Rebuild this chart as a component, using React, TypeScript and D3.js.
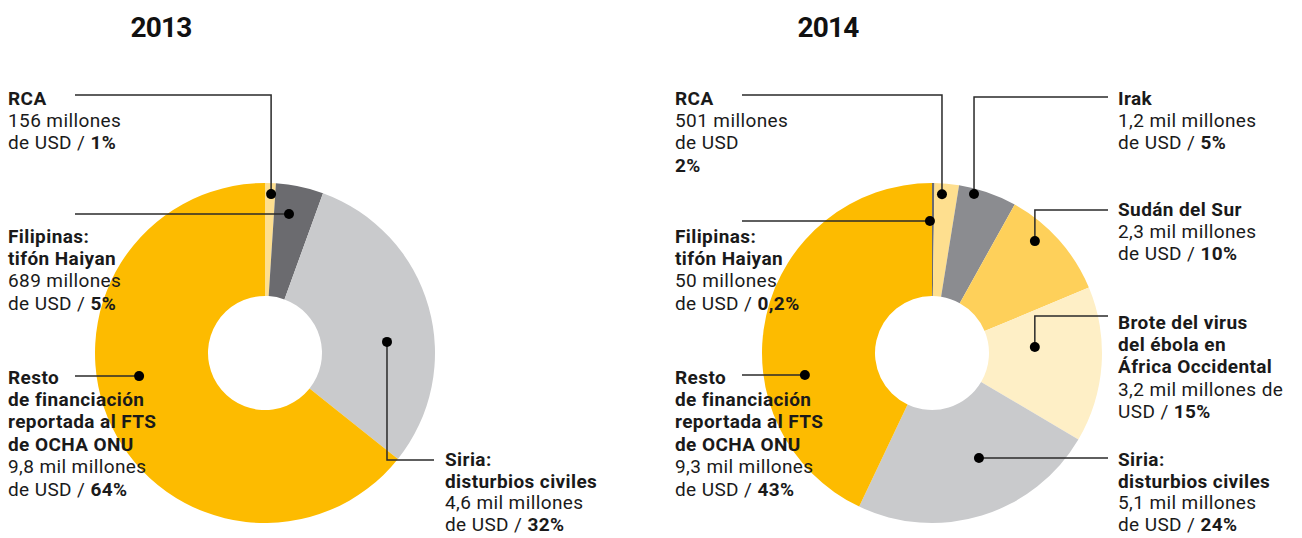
import React from "react";
import * as d3 from "d3";

const W = 1302;
const H = 538;
const FONT = "Roboto, 'DejaVu Sans', sans-serif";

// 2013 slices, clockwise from 12 o'clock (millones de USD)
const keys2013 = ["rca", "filipinas", "siria", "resto"];
const values2013 = [156, 689, 4600, 9800];
const colors2013 = ["#fedf8f", "#6b6b6f", "#c9cacc", "#fdbb00"];

// 2014 slices
const keys2014 = ["filipinas", "rca", "irak", "sudan", "ebola", "siria", "resto"];
const values2014 = [50, 501, 1200, 2300, 3200, 5100, 9300];
const colors2014 = ["#6b6b6f", "#fedf8f", "#8b8c90", "#fed05a", "#feefc6", "#c9cacc", "#fdbb00"];

// label text: each line is a list of [text, bold]
type Seg = [string, boolean];
const labels2013: Record<string, Seg[][]> = {
  rca: [[["RCA", true]], [["156 millones", false]], [["de USD / ", false], ["1%", true]]],
  filipinas: [
    [["Filipinas:", true]],
    [["tifón Haiyan", true]],
    [["689 millones", false]],
    [["de USD / ", false], ["5%", true]],
  ],
  resto: [
    [["Resto", true]],
    [["de financiación", true]],
    [["reportada al FTS", true]],
    [["de OCHA ONU", true]],
    [["9,8 mil millones", false]],
    [["de USD / ", false], ["64%", true]],
  ],
  siria: [
    [["Siria:", true]],
    [["disturbios civiles", true]],
    [["4,6 mil millones", false]],
    [["de USD / ", false], ["32%", true]],
  ],
};

const labels2014: Record<string, Seg[][]> = {
  rca: [[["RCA", true]], [["501 millones", false]], [["de USD", false]], [["2%", true]]],
  filipinas: [
    [["Filipinas:", true]],
    [["tifón Haiyan", true]],
    [["50 millones", false]],
    [["de USD / ", false], ["0,2%", true]],
  ],
  irak: [[["Irak", true]], [["1,2 mil millones", false]], [["de USD / ", false], ["5%", true]]],
  sudan: [[["Sudán del Sur", true]], [["2,3 mil millones", false]], [["de USD / ", false], ["10%", true]]],
  ebola: [
    [["Brote del virus", true]],
    [["del ébola en", true]],
    [["África Occidental", true]],
    [["3,2 mil millones de", false]],
    [["USD / ", false], ["15%", true]],
  ],
  siria: [
    [["Siria:", true]],
    [["disturbios civiles", true]],
    [["5,1 mil millones", false]],
    [["de USD / ", false], ["24%", true]],
  ],
  resto: [
    [["Resto", true]],
    [["de financiación", true]],
    [["reportada al FTS", true]],
    [["de OCHA ONU", true]],
    [["9,3 mil millones", false]],
    [["de USD / ", false], ["43%", true]],
  ],
};

// callout layout: dot (angle deg, radius), text position, leader style
type Callout = {
  key: string;
  angle: number;
  r: number;
  tx: number;
  ty: number; // baseline of first line
  lh?: number;
  leader: "topLeft" | "left" | "downRight" | "upRight" | "right";
  ly?: number; // elbow y
  lx: number; // leader end x
};

const layout2013: Callout[] = [
  { key: "rca", angle: 2.2, r: 159, tx: 8, ty: 104.5, leader: "topLeft", ly: 95, lx: 75 },
  { key: "filipinas", angle: 9.8, r: 141, tx: 8, ty: 242.5, leader: "left", lx: 75 },
  { key: "resto", angle: 259.6, r: 128, tx: 8, ty: 383.5, leader: "left", lx: 75 },
  { key: "siria", angle: 84.8, r: 122.5, tx: 445, ty: 466, lh: 21.7, leader: "downRight", ly: 460, lx: 434 },
];

const layout2014: Callout[] = [
  { key: "rca", angle: 3.6, r: 159, tx: 675, ty: 104.5, leader: "topLeft", ly: 95, lx: 742 },
  { key: "filipinas", angle: 359.1, r: 132, tx: 675, ty: 242.5, leader: "left", lx: 742 },
  { key: "resto", angle: 260.2, r: 129, tx: 675, ty: 383.5, leader: "left", lx: 742 },
  { key: "irak", angle: 14.8, r: 164.5, tx: 1118, ty: 104.5, leader: "upRight", ly: 97, lx: 1108 },
  { key: "sudan", angle: 42.6, r: 152, tx: 1118, ty: 215.5, leader: "upRight", ly: 210, lx: 1108 },
  { key: "ebola", angle: 86.7, r: 103, tx: 1118, ty: 328.5, leader: "upRight", ly: 316, lx: 1108 },
  { key: "siria", angle: 155.9, r: 115, tx: 1118, ty: 466, lh: 21.7, leader: "right", lx: 1108 },
];

const OUTER = 170;
const INNER = 57;
const LINE_H = 22.4;

function Donut({
  cx,
  cy,
  title,
  keys,
  values,
  colors,
  labels,
  layout,
}: {
  cx: number;
  cy: number;
  title: { x: number; text: string };
  keys: string[];
  values: number[];
  colors: string[];
  labels: Record<string, Seg[][]>;
  layout: Callout[];
}) {
  const pie = d3.pie<number>().sort(null).value((d) => d);
  const arcs = pie(values);
  const arc = d3.arc<d3.PieArcDatum<number>>().innerRadius(INNER).outerRadius(OUTER);

  return (
    <g>
      <text
        x={title.x}
        y={37}
        textAnchor="middle"
        style={{ fontFamily: FONT, fontWeight: 700, fontSize: 28, fill: "#111", letterSpacing: -0.8 }}
      >
        {title.text}
      </text>
      <g transform={`translate(${cx},${cy})`}>
        {arcs.map((a, i) => (
          <path key={keys[i]} d={arc(a) || ""} fill={colors[i]} />
        ))}
      </g>
      {layout.map((c) => {
        const [px, py] = d3.pointRadial((c.angle * Math.PI) / 180, c.r);
        const dx = cx + px;
        const dy = cy + py;
        let pts: [number, number][] = [];
        if (c.leader === "topLeft") pts = [[c.lx, c.ly!], [dx, c.ly!], [dx, dy]];
        else if (c.leader === "left") pts = [[c.lx, dy], [dx, dy]];
        else if (c.leader === "downRight") pts = [[dx, dy], [dx, c.ly!], [c.lx, c.ly!]];
        else if (c.leader === "upRight") pts = [[dx, dy], [dx, c.ly!], [c.lx, c.ly!]];
        else pts = [[dx, dy], [c.lx, dy]];
        const line = d3.line();
        const lh = c.lh ?? LINE_H;
        return (
          <g key={c.key}>
            <path d={line(pts) || ""} fill="none" stroke="#2a2a2a" strokeWidth={1.5} />
            <circle cx={dx} cy={dy} r={5} fill="#000" />
            <text style={{ fontFamily: FONT, fontSize: 19, fill: "#1a1a1a", letterSpacing: 0.4 }}>
              {labels[c.key].map((ln, li) => (
                <tspan key={li} x={c.tx} y={c.ty + li * lh}>
                  {ln.map((s, si) => (
                    <tspan key={si} fontWeight={s[1] ? 700 : 400}>
                      {s[0]}
                    </tspan>
                  ))}
                </tspan>
              ))}
            </text>
          </g>
        );
      })}
    </g>
  );
}

export default function App() {
  return (
    <svg
      width={W}
      height={H}
      style={{ position: "absolute", left: 0, top: 0, background: "#fff" }}
    >
      <Donut
        cx={265}
        cy={353}
        title={{ x: 161, text: "2013" }}
        keys={keys2013}
        values={values2013}
        colors={colors2013}
        labels={labels2013}
        layout={layout2013}
      />
      <Donut
        cx={932}
        cy={353}
        title={{ x: 828, text: "2014" }}
        keys={keys2014}
        values={values2014}
        colors={colors2014}
        labels={labels2014}
        layout={layout2014}
      />
    </svg>
  );
}
